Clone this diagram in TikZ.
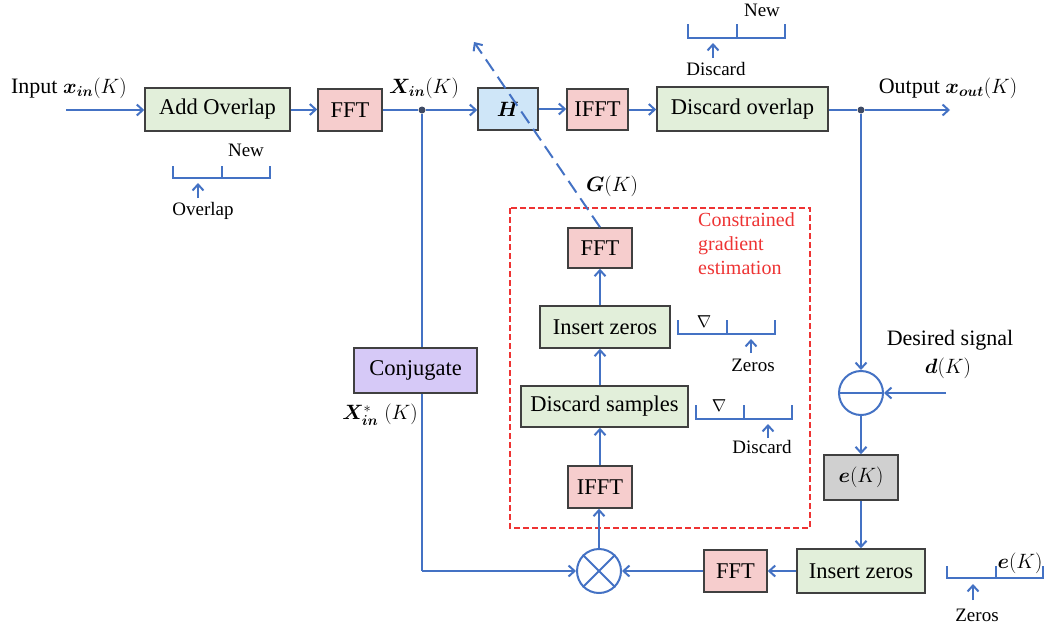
\documentclass[tikz,border=0pt]{standalone}
\usepackage{amsmath,bm}
\usepackage{fontspec}
\setmainfont{Liberation Serif}
\usetikzlibrary{arrows.meta,calc}
\definecolor{lblue}{HTML}{4472C4}
\definecolor{bgreen}{HTML}{E2EFDA}
\definecolor{bpink}{HTML}{F6CDCD}
\definecolor{bblue}{HTML}{CFE6F8}
\definecolor{bpurple}{HTML}{D6C9F7}
\definecolor{bgray}{HTML}{D0D0D0}
\definecolor{bord}{HTML}{404040}
\definecolor{dotc}{HTML}{3F4A63}
\definecolor{cred}{HTML}{EE3333}
\tikzset{
  box/.style={draw=bord, line width=1.5pt, inner sep=0pt, font=\fontsize{22.5}{26}\selectfont},
  conn/.style={draw=lblue, line width=2pt},
  arr/.style={conn, -{Straight Barb[length=6pt,width=11pt]}},
  lbl/.style={inner sep=0pt, font=\fontsize{22}{26}\selectfont},
  small/.style={inner sep=0pt, font=\fontsize{19}{22}\selectfont},
  brk/.style={draw=lblue, line width=2pt},
  junction/.style={circle, fill=dotc, inner sep=0pt, minimum size=7pt},
}
\begin{document}
\begin{tikzpicture}[x=1pt,y=-1pt]
\useasboundingbox (0,0) rectangle (1051,632);

% top row boxes
\node[box, fill=bgreen, minimum width=145, minimum height=43] (ao) at (217.5,109.5) {Add Overlap};
\node[box, fill=bpink, minimum width=64, minimum height=42] (fft1) at (350,110) {FFT};
\node[box, fill=bblue, minimum width=60, minimum height=42] (H) at (508,109) {$\bm{H}$};
\node[box, fill=bpink, minimum width=61, minimum height=41] (ifft1) at (597.5,109.5) {IFFT};
\node[box, fill=bgreen, minimum width=171, minimum height=44] (dov) at (742.5,109) {Discard overlap};

% labels top
\node[lbl] (inlbl) at (69,88) {Input $\bm{x}_{\bm{in}}(K)$};
\coordinate (inA) at (66,110);
\node[lbl] (xinlbl) at (424,88) {$\bm{X}_{\bm{in}}(K)$};
\node[lbl] (outlbl) at (948,88) {Output $\bm{x}_{\bm{out}}(K)$};
\coordinate (outA) at (950,110);

\node[junction] (j1) at (422,110) {};
\node[junction] (j2) at (861,110) {};

% conjugate
\node[box, fill=bpurple, minimum width=123, minimum height=45] (conj) at (415.5,370.5) {Conjugate};
\node[lbl] (xstar) at (380,415) {$\bm{X}^{*}_{\bm{in}}\;(K)$};

% constrained gradient block
\node[box, fill=bpink, minimum width=64, minimum height=40] (fft2) at (600,248) {FFT};
\node[box, fill=bgreen, minimum width=130, minimum height=42] (iz1) at (605,327) {Insert zeros};
\node[box, fill=bgreen, minimum width=167, minimum height=41] (ds) at (604.5,406.5) {Discard samples};
\node[box, fill=bpink, minimum width=64, minimum height=42] (ifft2) at (600,487) {IFFT};
\draw[cred, line width=1.6pt, dash pattern=on 6pt off 3pt] (510,208) rectangle (810,528);
\node[small, text=cred, align=left, anchor=north west, font=\fontsize{20}{24}\selectfont] (cge) at (698,212) {Constrained\\gradient\\estimation};
\node[lbl] (glbl) at (612,186) {$\bm{G}(K)$};

% multiplier
\node[circle, draw=lblue, line width=2pt, minimum size=44pt, inner sep=0pt] (mul) at (599,571) {};
\draw[conn] (mul.north west) -- (mul.south east) (mul.north east) -- (mul.south west);

% subtraction
\node[circle, draw=lblue, line width=2pt, minimum size=44pt, inner sep=0pt] (sub) at (861,393) {};
\draw[conn] (sub.west) -- (sub.east);
\node[lbl] (des) at (950,340) {Desired signal};
\node[lbl] (dlbl) at (948,368) {$\bm{d}(K)$};
\coordinate (dA) at (946,393);

\node[box, fill=bgray, minimum width=74, minimum height=45] (ek) at (861,477.5) {$\bm{e}(K)$};
\node[box, fill=bgreen, minimum width=128, minimum height=44] (iz2) at (861,571) {Insert zeros};
\node[box, fill=bpink, minimum width=63, minimum height=42] (fft3) at (735.5,571) {FFT};

% connectors top row
\draw[arr] (inA) -- (ao.west |- inA);
\draw[arr] (ao.east) -- (fft1.west |- ao.east);
\draw[conn] (fft1.east |- j1) -- (j1);
\draw[arr] (j1) -- (H.west |- j1);
\draw[arr] (H.east) -- (ifft1.west |- H.east);
\draw[arr] (ifft1.east) -- (dov.west |- ifft1.east);
\draw[conn] (dov.east |- j2) -- (j2);
\draw[arr] (j2) -- (outA);

% left branch
\draw[conn] (j1) -- (j1 |- conj.north);
\coordinate (lc) at (422,571);
\draw[conn] (j1 |- conj.south) -- (lc);
\draw[arr] (lc) -- (mul.west);

% inner chain
\draw[arr] (mul.north) -- (ifft2.south -| mul.north);
\draw[arr] (ifft2.north) -- (ds.south -| ifft2.north);
\draw[arr] (ds.north -| fft2.south) -- (iz1.south -| fft2.south);
\draw[arr] (iz1.north -| fft2.south) -- (fft2.south);

% dashed adaptation arrow
\coordinate (gtip) at (474,42);
\draw[conn, dash pattern=on 14pt off 7pt, -{Straight Barb[length=6pt,width=11pt]}] (fft2.north) -- (gtip);

% right branch
\draw[arr] (j2) -- (sub.north);
\draw[arr] (dA) -- (sub.east);
\draw[arr] (sub.south) -- (ek.north);
\draw[arr] (ek.south) -- (iz2.north);
\draw[arr] (iz2.west) -- (fft3.east);
\draw[arr] (fft3.west) -- (mul.east);

% bracket: overlap/new
\draw[brk] (173,166) -- (173,178) -- (270,178) -- (270,166) (222,166) -- (222,178);
\node[small] (newA) at (246,150) {New};
\coordinate (ovA) at (198,198);
\draw[arr] (ovA) -- (198,183);
\node[small] (ovl) at (203,211) {Overlap};

% bracket: discard/new top
\draw[brk] (688,24) -- (688,38) -- (785,38) -- (785,24) (737,24) -- (737,38);
\node[small] (newB) at (762,10) {New};
\coordinate (dcA) at (713,58);
\draw[arr] (dcA) -- (713,43);
\node[small] (dcl) at (716,69) {Discard};

% bracket: insert zeros (inner)
\draw[brk] (678,320) -- (678,334) -- (775,334) -- (775,320) (727,320) -- (727,334);
\node[small] (nab1) at (704,322) {$\nabla$};
\coordinate (zA) at (751,353);
\draw[arr] (zA) -- (751,339);
\node[small] (zl1) at (753,365) {Zeros};

% bracket: discard samples
\draw[brk] (696,405) -- (696,419) -- (792,419) -- (792,405) (744,405) -- (744,419);
\node[small] (nab2) at (719,406) {$\nabla$};
\coordinate (dsA) at (768,438);
\draw[arr] (dsA) -- (768,424);
\node[small] (dsl) at (762,447) {Discard};

% bracket: zeros / e(K) bottom right
\draw[brk] (947,566) -- (947,578) -- (1043,578) -- (1043,566) (996,566) -- (996,578);
\node[lbl, font=\fontsize{20}{24}\selectfont] (ekl) at (1020,563) {$\bm{e}(K)$};
\coordinate (zbA) at (973,600);
\draw[arr] (zbA) -- (973,584);
\node[small] (zl2) at (977,615) {Zeros};
\end{tikzpicture}
\end{document}
